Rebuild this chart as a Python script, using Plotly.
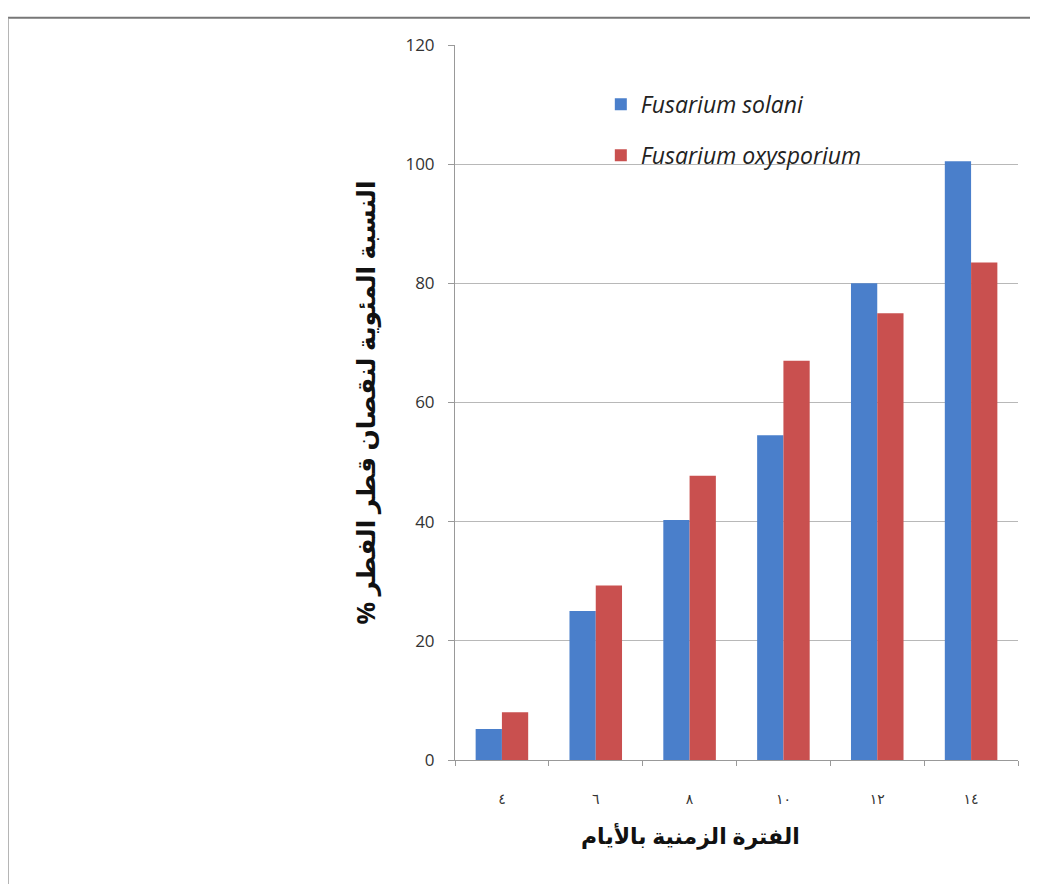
import plotly.graph_objects as go

categories = ["٤", "٦", "٨", "١٠", "١٢", "١٤"]
solani = [5.2, 25.0, 40.3, 54.5, 80.0, 100.5]
oxysporium = [8.0, 29.3, 47.7, 67.0, 75.0, 83.5]
y_ticks = [0, 20, 40, 60, 80, 100, 120]

fig = go.Figure()
fig.add_trace(go.Bar(x=categories, y=solani, name="Fusarium solani",
                     marker=dict(color="#4A7FCB", line=dict(width=0)),
                     legendgroup="a"))
fig.add_trace(go.Bar(x=categories, y=oxysporium, name="Fusarium oxysporium",
                     marker=dict(color="#C9504F", line=dict(width=0)),
                     legendgroup="b"))

fig.update_layout(
    width=1030, height=876,
    margin=dict(l=447, r=20, t=37, b=124),
    paper_bgcolor="white", plot_bgcolor="white",
    barmode="group", bargap=0.44, bargroupgap=0,
    font=dict(family="Open Sans, DejaVu Sans", color="#333333"),
    showlegend=True,
    legend=dict(x=0.259, y=0.947, xanchor="left", yanchor="top",
                font=dict(size=23, family="Open Sans", color="#222222", style="italic"),
                tracegroupgap=18, bgcolor="rgba(0,0,0,0)", itemwidth=30),
    xaxis=dict(showgrid=False, showline=True, linecolor="#999999", linewidth=1,
               ticks="outside", tickson="boundaries", ticklen=5, tickcolor="#999999",
               tickfont=dict(size=14, color="#333333"), ticklabelstandoff=26),
    yaxis=dict(range=[0, 120], tickvals=y_ticks, showgrid=True, gridcolor="#B8B8B8", gridwidth=1,
               showline=True, linecolor="#999999", linewidth=1,
               ticks="outside", ticklen=6, tickcolor="#999999",
               tickfont=dict(size=17, color="#333333"), zeroline=False, ticklabelstandoff=10,
               title=dict(text="<b>% النسبة المئوية لنقصان قطر الفطر</b>", font=dict(size=25, color="#111111"), standoff=22)),
)

fig.add_annotation(xref="paper", yref="paper", x=0.419, y=-0.105, showarrow=False,
                   text="<b>الفترة الزمنية بالأيام</b>", font=dict(size=22, color="#111111"),
                   xanchor="center", yanchor="middle")

fig.add_shape(type="line", xref="paper", yref="paper", x0=-0.794, x1=1.04, y0=1.038, y1=1.038,
              line=dict(color="#777777", width=2))
fig.add_shape(type="line", xref="paper", yref="paper", x0=-0.794, x1=-0.794, y0=1.038, y1=-0.18,
              line=dict(color="#999999", width=1.5))

fig.write_html("out.html")
